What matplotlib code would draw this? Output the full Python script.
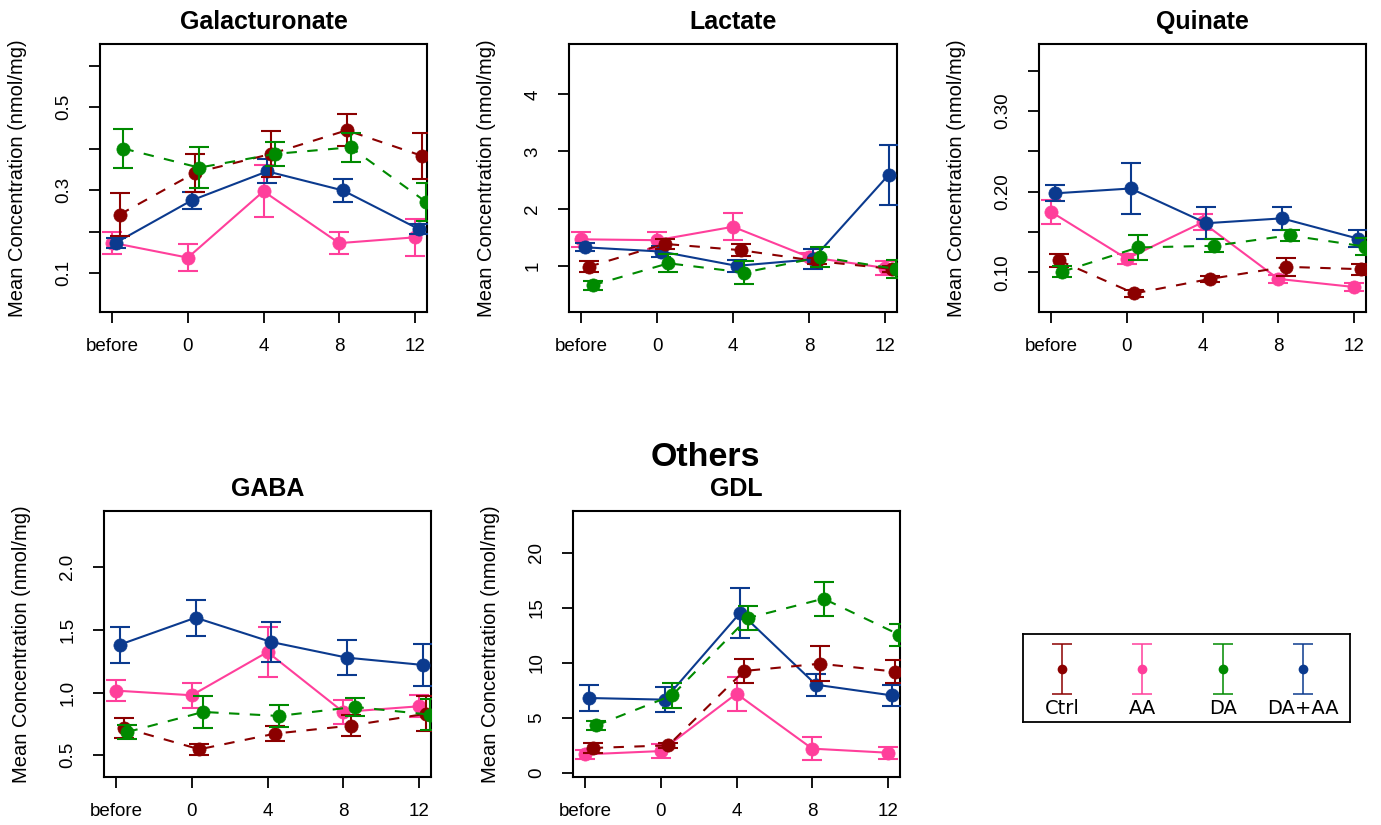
import numpy as np
import matplotlib
matplotlib.use('Agg')
import matplotlib.pyplot as plt

plt.rcParams['font.family'] = ['Liberation Sans', 'DejaVu Sans']

# Data (mean +/- error)
groups = ['Ctrl', 'AA', 'DA', 'DA+AA']
time_labels = ['before', '0', '4', '8', '12']

galact_mean = {'Ctrl': [0.241, 0.342, 0.387, 0.444, 0.382],
               'AA': [0.173, 0.137, 0.297, 0.172, 0.186],
               'DA': [0.400, 0.354, 0.387, 0.403, 0.271],
               'DA+AA': [0.173, 0.275, 0.345, 0.299, 0.206]}
galact_err = {'Ctrl': [0.053, 0.046, 0.055, 0.039, 0.056],
              'AA': [0.027, 0.032, 0.063, 0.027, 0.045],
              'DA': [0.047, 0.049, 0.028, 0.035, 0.045],
              'DA+AA': [0.012, 0.020, 0.029, 0.028, 0.012]}

lactate_mean = {'Ctrl': [0.98, 1.38, 1.27, 1.08, 0.94],
                'AA': [1.46, 1.445, 1.68, 1.15, 0.96],
                'DA': [0.654, 1.04, 0.877, 1.15, 0.94],
                'DA+AA': [1.32, 1.246, 0.995, 1.11, 2.59]}
lactate_err = {'Ctrl': [0.10, 0.09, 0.11, 0.05, 0.05],
               'AA': [0.13, 0.15, 0.235, 0.07, 0.12],
               'DA': [0.08, 0.155, 0.205, 0.17, 0.165],
               'DA+AA': [0.07, 0.095, 0.10, 0.175, 0.52]}

quinate_mean = {'Ctrl': [0.115, 0.074, 0.092, 0.107, 0.104],
                'AA': [0.175, 0.117, 0.162, 0.092, 0.082],
                'DA': [0.101, 0.131, 0.133, 0.146, 0.132],
                'DA+AA': [0.198, 0.204, 0.161, 0.167, 0.142]}
quinate_err = {'Ctrl': [0.008, 0.004, 0.004, 0.011, 0.007],
               'AA': [0.015, 0.006, 0.010, 0.005, 0.005],
               'DA': [0.007, 0.015, 0.008, 0.007, 0.011],
               'DA+AA': [0.010, 0.031, 0.020, 0.014, 0.011]}

gaba_mean = {'Ctrl': [0.72, 0.548, 0.673, 0.737, 0.832],
             'AA': [1.016, 0.979, 1.324, 0.846, 0.891],
             'DA': [0.686, 0.846, 0.814, 0.886, 0.824],
             'DA+AA': [1.383, 1.598, 1.404, 1.279, 1.221]}
gaba_err = {'Ctrl': [0.08, 0.044, 0.058, 0.084, 0.14],
            'AA': [0.086, 0.10, 0.20, 0.095, 0.087],
            'DA': [0.053, 0.128, 0.09, 0.069, 0.126],
            'DA+AA': [0.143, 0.144, 0.162, 0.138, 0.17]}

gdl_mean = {'Ctrl': [2.25, 2.49, 9.26, 9.92, 9.2],
            'AA': [1.67, 1.97, 7.19, 2.19, 1.82],
            'DA': [4.31, 7.04, 14.08, 15.84, 12.56],
            'DA+AA': [6.8, 6.65, 14.57, 8.01, 7.04]}
gdl_err = {'Ctrl': [0.42, 0.2, 1.05, 1.58, 1.06],
           'AA': [0.38, 0.63, 1.55, 1.03, 0.56],
           'DA': [0.42, 1.13, 1.09, 1.56, 1.0],
           'DA+AA': [1.18, 1.14, 2.28, 1.02, 0.94]}

# styles
colors = {'Ctrl': '#8b0000', 'AA': '#ff3f9b', 'DA': '#008a00', 'DA+AA': '#0b3a8e'}
dashed = {'Ctrl': True, 'AA': False, 'DA': True, 'DA+AA': False}
dodge = {'AA': 0.0, 'DA+AA': 0.05, 'Ctrl': 0.10, 'DA': 0.15}
draw_order = ['AA', 'DA+AA', 'Ctrl', 'DA']

W, H = 1381, 825
fig = plt.figure(figsize=(W / 100, H / 100), dpi=100)


def px_axes(left, right, top, bottom):
    return fig.add_axes([left / W, 1 - bottom / H, (right - left) / W, (bottom - top) / H])


def panel(ax, title, means, errs, ylim, ticks, labels):
    x = np.arange(1, len(time_labels) + 1)
    for i, g in enumerate(draw_order):
        xs = x + dodge[g]
        ls = (0, (5, 5)) if dashed[g] else '-'
        ax.plot(xs, means[g], color=colors[g], lw=1.5, linestyle=ls, zorder=2 + i)
        ax.errorbar(xs, means[g], yerr=errs[g], fmt='none', ecolor=colors[g],
                    elinewidth=1.5, capsize=7, capthick=1.5, zorder=2 + i)
        ax.plot(xs, means[g], 'o', color=colors[g], ms=9.5, mec=colors[g],
                mew=0.5, zorder=2 + i)
    ax.set_xlim(0.84, 5.16)
    ax.set_ylim(*ylim)
    ax.set_xticks(x)
    ax.set_xticklabels(time_labels)
    ax.set_yticks(ticks)
    ax.set_yticklabels(labels, rotation=90, va='center')
    ax.tick_params(axis='both', direction='out', length=8, width=1.3, labelsize=13.5)
    ax.tick_params(axis='x', pad=10.5)
    ax.tick_params(axis='y', pad=12)
    for s in ax.spines.values():
        s.set_linewidth(1.5)
    ax.set_ylabel('Mean Concentration (nmol/mg)', fontsize=14.5)
    ax.yaxis.set_label_coords(-0.251, 0.5)
    ax.yaxis.label.set_va('center')
    bb = ax.get_position()
    ax.text(0.5, 1 + 22 / (bb.height * H), title, transform=ax.transAxes,
            ha='center', va='center', fontsize=18, fontweight='bold')


ax1 = px_axes(100, 427, 44, 312)
panel(ax1, 'Galacturonate', galact_mean, galact_err, (0.006, 0.652),
      [0.1, 0.2, 0.3, 0.4, 0.5, 0.6], ['0.1', '', '0.3', '', '0.5', ''])

ax2 = px_axes(569, 897, 44, 312)
panel(ax2, 'Lactate', lactate_mean, lactate_err, (0.186, 4.884),
      [1, 2, 3, 4], ['1', '2', '3', '4'])

ax3 = px_axes(1039, 1366, 44, 312)
panel(ax3, 'Quinate', quinate_mean, quinate_err, (0.051, 0.383),
      [0.10, 0.15, 0.20, 0.25, 0.30, 0.35], ['0.10', '', '0.20', '', '0.30', ''])

ax4 = px_axes(104, 431, 511, 777)
panel(ax4, 'GABA', gaba_mean, gaba_err, (0.327, 2.449),
      [0.5, 1.0, 1.5, 2.0], ['0.5', '1.0', '1.5', '2.0'])

ax5 = px_axes(573, 900, 511, 777)
panel(ax5, 'GDL', gdl_mean, gdl_err, (-0.39, 23.82),
      [0, 5, 10, 15, 20], ['0', '5', '10', '15', '20'])

fig.text(705 / W, 1 - 458 / H, 'Others', ha='center', va='center',
         fontsize=24.5, fontweight='bold')

# legend box
lax = px_axes(1023, 1350, 634, 722)
lx = np.arange(len(groups))
for i, g in enumerate(groups):
    lax.errorbar(lx[i], 0, yerr=1, fmt='none', ecolor=colors[g],
                 elinewidth=1.1, capsize=7, capthick=1.1)
    lax.plot(lx[i], 0, 'o', color=colors[g], ms=7, mew=0)
    lax.text(lx[i], -1.56, g, ha='center', va='center', fontsize=14,
             family='DejaVu Sans')
lax.set_xlim(-0.484, 3.586)
lax.set_ylim(-2.12, 1.4)
lax.set_xticks([])
lax.set_yticks([])
for s in lax.spines.values():
    s.set_linewidth(1.3)

fig.savefig('out.png', dpi=100)
